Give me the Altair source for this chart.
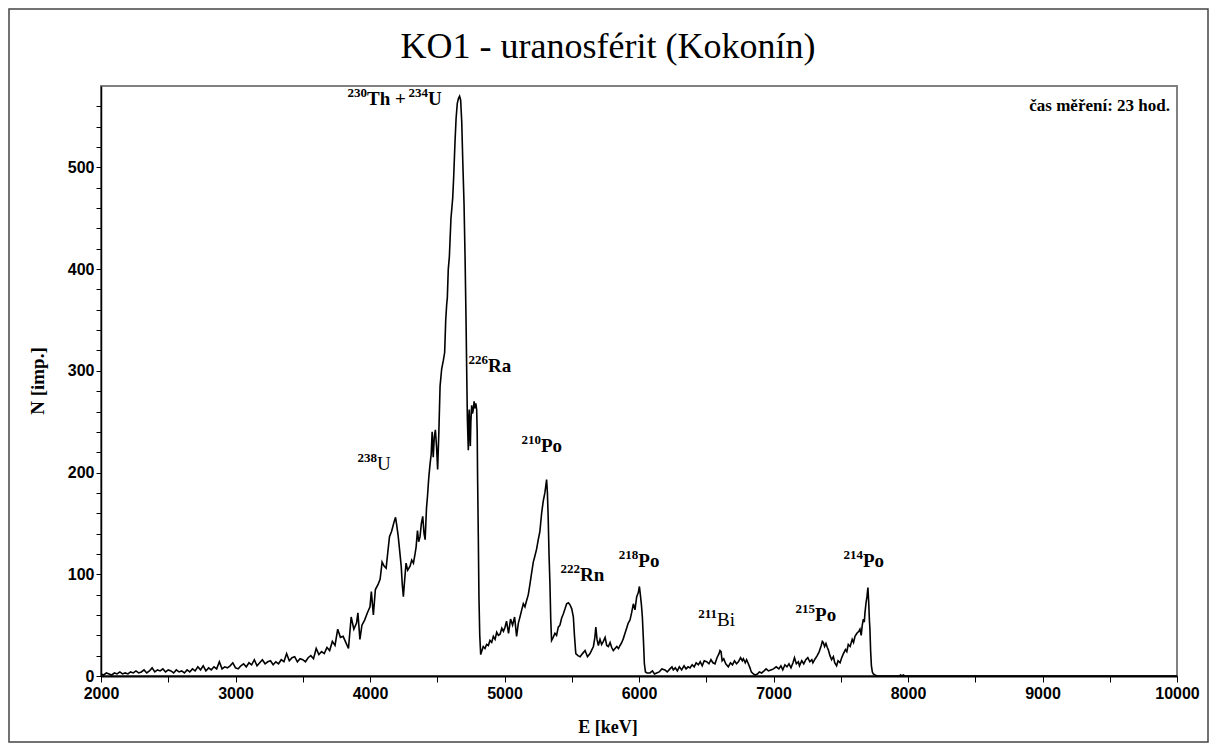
import altair as alt
import pandas as pd

# ---- spectrum (E in keV, N counts) ----
e_low = [2000, 2020, 2040, 2060, 2080, 2100, 2120, 2140, 2160, 2180, 2200, 2220, 2240, 2260, 2280,
         2300, 2320, 2340, 2360, 2380, 2400, 2420, 2440, 2460, 2480, 2500, 2520, 2540, 2560, 2580,
         2600, 2620, 2640, 2660, 2680, 2700, 2720, 2740, 2760, 2780]
n_low = [2, 1, 3, 2, 1, 3, 2, 4, 2, 3, 2, 4, 3, 5, 3,
         4, 6, 3, 5, 8, 4, 6, 5, 7, 4, 6, 5, 3, 6, 4,
         5, 3, 6, 4, 7, 5, 9, 6, 10, 5]

e_tail = [2800, 2820, 2840, 2860, 2880, 2900, 2920, 2940, 2960, 2980, 3000, 3020, 3040, 3060, 3080,
          3100, 3120, 3140, 3160, 3180, 3200, 3220, 3240, 3260, 3280, 3300, 3320, 3340, 3360, 3380,
          3400, 3420, 3440, 3460, 3480, 3500]
n_tail = [8, 6, 9, 7, 14, 7, 9, 8, 10, 13, 8, 7, 10, 12, 9,
          13, 11, 16, 10, 13, 16, 12, 14, 15, 11, 14, 12, 16, 14, 22,
          15, 18, 19, 14, 17, 16]

e_rise = [3520, 3540, 3560, 3580, 3600, 3620, 3640, 3660, 3680, 3700, 3720, 3740, 3760, 3780, 3800,
          3820, 3840, 3860, 3880, 3900, 3910, 3925, 3940, 3960, 3980, 4000, 4010]
n_rise = [14, 18, 20, 17, 27, 21, 24, 22, 28, 25, 34, 30, 46, 38, 39,
          33, 27, 58, 46, 52, 62, 36, 50, 55, 62, 68, 83]

e_u238 = [4025, 4040, 4060, 4075, 4090, 4105, 4120, 4135, 4145, 4160, 4170, 4180, 4190, 4200, 4210,
          4220, 4232, 4240, 4248, 4258, 4268, 4280, 4298, 4310, 4323, 4335, 4343, 4353, 4362, 4372,
          4382, 4392, 4402, 4410, 4420, 4427, 4437, 4447, 4455, 4462, 4470, 4478, 4486, 4495, 4503,
          4512, 4521, 4533, 4545, 4555, 4563, 4570]
n_u238 = [60, 85, 90, 95, 112, 108, 106, 125, 137, 142, 147, 152, 156, 147, 137,
          124, 108, 90, 78, 95, 111, 104, 108, 114, 111, 120, 127, 143, 132, 137,
          150, 157, 140, 134, 165, 176, 195, 209, 218, 240, 215, 235, 242, 225, 203,
          240, 285, 302, 310, 318, 350, 365]

e_main = [4575, 4582, 4590, 4602, 4610, 4615, 4622, 4632, 4640, 4649, 4658, 4666, 4674, 4682, 4690,
          4699, 4707, 4714, 4720, 4724, 4728, 4731, 4735, 4738, 4742, 4746, 4750, 4756, 4762, 4768,
          4774, 4781, 4787, 4793, 4797, 4800, 4805, 4810, 4816, 4823, 4830]
n_main = [372, 400, 412, 450, 462, 470, 490, 525, 548, 563, 568, 570, 566, 545, 505,
          465, 410, 350, 290, 253, 235, 222, 255, 262, 240, 226, 250, 266, 258, 262,
          270, 263, 268, 262, 240, 195, 140, 78, 40, 21, 24]

e_po210 = [4842, 4855, 4867, 4880, 4892, 4905, 4917, 4930, 4942, 4955, 4967, 4980, 4992, 5004, 5015,
           5030, 5045, 5060, 5075, 5090, 5103, 5115, 5128, 5140, 5152, 5164, 5177, 5189, 5200, 5214,
           5226, 5239, 5251, 5263, 5276, 5288, 5300, 5308, 5313, 5319, 5325, 5331, 5338, 5344, 5350]
n_po210 = [29, 27, 31, 30, 35, 33, 39, 36, 43, 40, 41, 47, 44, 48, 54,
           42, 56, 50, 58, 39, 52, 58, 65, 71, 68, 74, 80, 90, 100, 112,
           118, 125, 134, 142, 160, 172, 180, 188, 193, 180, 155, 120, 90, 55, 35]

e_rn = [5362, 5375, 5387, 5400, 5412, 5425, 5437, 5450, 5462, 5475, 5487, 5500, 5512, 5520, 5530,
        5546, 5562, 5580, 5599, 5617, 5636, 5650, 5661, 5672, 5679, 5688, 5698, 5710, 5722, 5735,
        5748, 5760, 5772, 5785, 5797, 5809, 5822, 5835, 5847, 5859, 5872, 5884, 5896, 5908, 5920,
        5933, 5945, 5958, 5970, 5983, 5995, 6003, 6010, 6018, 6025, 6033, 6040, 6048]
n_rn = [38, 42, 40, 48, 50, 57, 61, 66, 71, 72, 70, 66, 58, 40, 22,
        20, 19, 22, 25, 19, 22, 26, 29, 38, 48, 36, 30, 36, 31, 34,
        38, 30, 29, 33, 28, 25, 27, 29, 27, 30, 33, 37, 42, 47, 52,
        55, 62, 71, 65, 78, 82, 88, 80, 70, 58, 35, 12, 4]

e_bi = [6060, 6081, 6100, 6115, 6131, 6150, 6170, 6193, 6210, 6230, 6245, 6255, 6270, 6285, 6300,
        6317, 6335, 6350, 6365, 6379, 6395, 6410, 6425, 6441, 6455, 6470, 6485, 6503, 6520, 6535,
        6550, 6565, 6580, 6595, 6602, 6610, 6618, 6630, 6645, 6664, 6680, 6695, 6710, 6725, 6739,
        6755, 6768, 6776, 6790, 6800, 6813, 6825, 6835, 6850, 6863, 6880, 6895, 6912, 6930, 6945,
        6962, 6980, 7000]
n_bi = [3, 3, 5, 2, 3, 4, 7, 6, 4, 7, 9, 6, 8, 5, 9,
        6, 10, 7, 9, 8, 11, 9, 13, 11, 14, 10, 15, 14, 12, 16,
        13, 12, 18, 22, 25, 24, 15, 17, 12, 9, 13, 11, 15, 12, 14,
        18, 15, 17, 13, 16, 12, 8, 4, 2, 1, 2, 4, 3, 5, 7,
        5, 6, 7]

e_po214 = [7020, 7040, 7055, 7069, 7085, 7100, 7115, 7130, 7145, 7156, 7170, 7185, 7193, 7210, 7225,
           7240, 7255, 7270, 7285, 7293, 7310, 7325, 7340, 7355, 7363, 7370, 7380, 7390, 7400, 7407,
           7420, 7432, 7445, 7455, 7469, 7480, 7495, 7507, 7520, 7535, 7545, 7556, 7570, 7585, 7595,
           7606, 7620, 7635, 7643, 7652, 7660, 7668, 7675, 7680, 7688, 7695, 7702, 7708, 7713, 7717,
           7722, 7728, 7735, 7742, 7755, 7770]
n_po214 = [9, 7, 10, 6, 11, 9, 12, 8, 13, 18, 12, 14, 10, 15, 12,
           16, 18, 14, 16, 13, 17, 20, 24, 30, 34, 33, 29, 32, 28, 26,
           20, 16, 19, 13, 10, 15, 13, 18, 22, 26, 24, 31, 29, 36, 33,
           39, 42, 44, 46, 40, 50, 56, 53, 62, 72, 78, 87, 72, 55, 46,
           25, 10, 4, 2, 1, 0]

e_end = [7800, 7935, 7945, 7955, 7965, 7975, 8000, 10000]
n_end = [0, 0, 1, 0, 1, 0, 0, 0]

energy = e_low + e_tail + e_rise + e_u238 + e_main + e_po210 + e_rn + e_bi + e_po214 + e_end
counts = n_low + n_tail + n_rise + n_u238 + n_main + n_po210 + n_rn + n_bi + n_po214 + n_end
spectrum = pd.DataFrame({"E": energy, "N": counts})

# ---- peak labels: isotope mass number (superscript) + element, anchored in data units ----
lab_mass = ["230", "234", "226", "210", "238", "222", "218", "211", "215", "214"]
lab_elem = ["Th +", "U", "Ra", "Po", "U", "Rn", "Po", "Bi", "Po", "Po"]
lab_e = [3978, 4431, 4877, 5271, 4052, 5561, 5995, 6580, 7309, 7665]
lab_n = [561, 561, 299, 220, 203, 93, 107, 49, 54, 107]
lab_bold = [True, True, True, True, False, True, True, False, True, True]
labels = pd.DataFrame({"mass": lab_mass, "elem": lab_elem, "E": lab_e, "N": lab_n,
                       "w": ["bold" if b else "normal" for b in lab_bold]})

note_text = ["čas měření: 23 hod."]
note_e = [9948]
note_n = [555]
note = pd.DataFrame({"t": note_text, "E": note_e, "N": note_n})

x_ticks = list(range(2000, 10001, 500))
y_ticks = list(range(0, 561, 20))

xs = alt.Scale(domain=[2000, 10000], nice=False, zero=False)
ys = alt.Scale(domain=[0, 580], nice=False)

SERIF = "Liberation Serif, Times New Roman, serif"
SANS = "Liberation Sans, Arial, sans-serif"

x_axis = alt.Axis(values=x_ticks, format="d",
                  labelExpr="datum.value % 1000 == 0 ? datum.label : ''",
                  title=None, grid=False, domainColor="black", domainWidth=2,
                  tickColor="black", tickSize=6, tickWidth=1,
                  labelFont=SANS, labelFontWeight="bold", labelFontSize=16,
                  labelColor="black", labelPadding=3, labelFlush=False, labelOverlap=False)
y_axis = alt.Axis(values=y_ticks, format="d",
                  labelExpr="datum.value % 100 == 0 ? datum.label : ''",
                  title=None, grid=False, domainColor="black", domainWidth=1.5,
                  tickColor="black", tickSize=5, tickWidth=1,
                  labelFont=SANS, labelFontWeight="bold", labelFontSize=16,
                  labelColor="black", labelPadding=2, labelOverlap=False)

X = alt.X("E:Q", scale=xs, axis=x_axis)
Y = alt.Y("N:Q", scale=ys, axis=y_axis)

line = alt.Chart(spectrum).mark_line(color="black", strokeWidth=1.6).encode(
    x=X, y=Y, order="E:Q")

base_lab = alt.Chart(labels).encode(x=X, y=Y)
sup = base_lab.mark_text(font=SERIF, fontSize=13, fontWeight="bold", align="right",
                         baseline="alphabetic", dy=-8, color="black").encode(text="mass:N")
elem_bold = base_lab.transform_filter("datum.w == 'bold'").mark_text(
    font=SERIF, fontSize=19, fontWeight="bold", align="left",
    baseline="alphabetic", color="black").encode(text="elem:N")
elem_norm = base_lab.transform_filter("datum.w == 'normal'").mark_text(
    font=SERIF, fontSize=19, fontWeight="normal", align="left",
    baseline="alphabetic", color="black").encode(text="elem:N")

note_mark = alt.Chart(note).mark_text(font=SERIF, fontSize=17, fontWeight="bold", align="right",
                                      baseline="alphabetic", color="black").encode(
    x=X, y=Y, text="t:N")

one = pd.DataFrame({"t": ["KO1 - uranosférit (Kokonín)"]})
title = alt.Chart(one).mark_text(font=SERIF, fontSize=36, align="center", baseline="middle",
                                 color="black").encode(
    text="t:N", x=alt.value(507), y=alt.value(-39))
xt = alt.Chart(pd.DataFrame({"t": ["E [keV]"]})).mark_text(
    font=SERIF, fontSize=18, fontWeight="bold", align="center", baseline="middle",
    color="black").encode(text="t:N", x=alt.value(507), y=alt.value(642))
yt = alt.Chart(pd.DataFrame({"t": ["N [imp.]"]})).mark_text(
    font=SERIF, fontSize=19, fontWeight="bold", align="center", baseline="middle",
    angle=270, color="black").encode(text="t:N", x=alt.value(-63), y=alt.value(295))
frame = alt.Chart(pd.DataFrame({"a": [0]})).mark_rect(
    fillOpacity=0, stroke="#444444", strokeWidth=1.5).encode(
    x=alt.value(-92), x2=alt.value(1107), y=alt.value(-77), y2=alt.value(656))

chart = alt.layer(line, frame, sup, elem_bold, elem_norm, note_mark, title, xt, yt).properties(
    width=1076, height=590,
    autosize=alt.AutoSizeParams(type="none"),
    padding={"left": 93, "top": 78, "right": 32, "bottom": 67},
    background="white",
).configure_view(stroke="#808080", strokeWidth=2).configure_axis(labelOverlap=False)

chart.save("out.html", embed_options={"renderer": "svg", "actions": False})
